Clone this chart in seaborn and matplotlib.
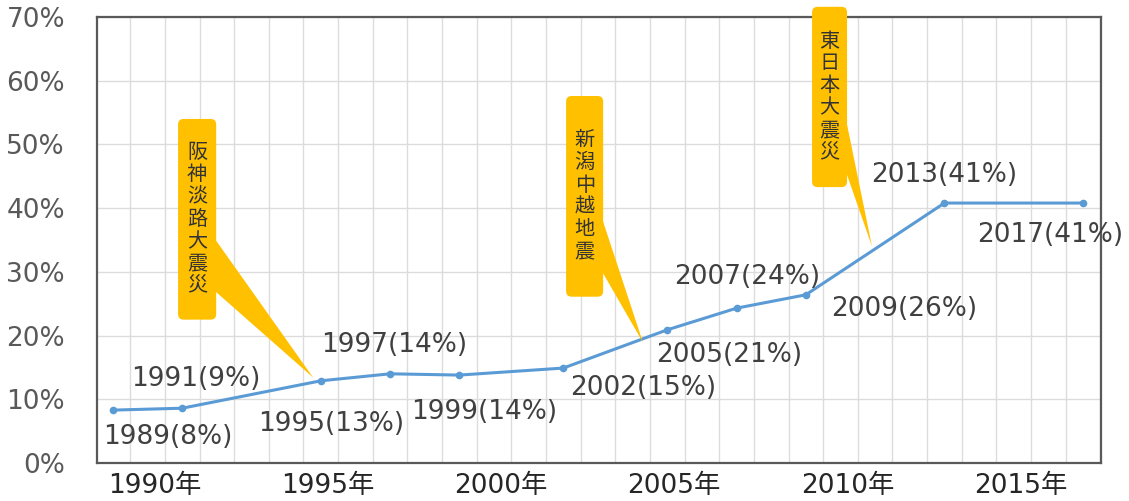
import matplotlib
matplotlib.use("Agg")
import matplotlib.pyplot as plt
import matplotlib.transforms as mtransforms
import seaborn as sns
from matplotlib.patches import FancyBboxPatch, Polygon
from matplotlib.ticker import FixedLocator, MultipleLocator

# =========================
# DATA
# =========================

years = [1989, 1991, 1995, 1997, 1999, 2002, 2005, 2007, 2009, 2013, 2017]
share = [8.3, 8.6, 12.9, 14.0, 13.8, 14.9, 20.9, 24.3, 26.4, 40.8, 40.8]

x_ticks = [1990, 1995, 2000, 2005, 2010, 2015]
x_tick_labels = [f"{y}年" for y in x_ticks]
y_ticks = [0, 10, 20, 30, 40, 50, 60, 70]
y_tick_labels = [f"{v}%" for v in y_ticks]

events = ["阪神淡路大震災", "新潟中越地震", "東日本大震災"]

# label offsets (pixels) from each point, dy positive = up
label_offsets = [(55, -27), (14, 29), (10, -43), (4, 29), (25, -37), (80, -20),
                 (62, -25), (11, 31), (98, -14), (0, 28), (-33, -32)]

# callout layout: box (x0, y0, x1, y1), wedge (base top, base bottom, tip)
callouts = [
    dict(box=(1990.88, 22.5, 1991.98, 54.0),
         wedge=[(1991.9, 35.5), (1991.9, 27.2), (1994.78, 13.4)]),
    dict(box=(2002.08, 26.1, 2003.15, 57.6),
         wedge=[(2003.05, 39.5), (2003.05, 30.7), (2004.30, 18.9)]),
    dict(box=(2009.18, 43.3, 2010.19, 71.6),
         wedge=[(2010.1, 55.5), (2010.1, 46.6), (2010.91, 34.0)]),
]

# =========================
# PLOT
# =========================

sns.set_theme(style="white")
plt.rcParams['font.family'] = ['DejaVu Sans', 'Noto Sans CJK JP']

fig = plt.figure(figsize=(11.29, 5.01), dpi=100)
ax = fig.add_axes([97 / 1129, 1 - 463 / 501, (1101 - 97) / 1129, (463 - 17) / 501])

ax.set_xlim(1988.54, 2017.52)
ax.set_ylim(0, 70)

# grid
ax.xaxis.set_minor_locator(MultipleLocator(1, offset=0.5))
ax.grid(True, which="minor", axis="x", color="#DCDCDC", lw=1)
ax.grid(True, which="major", axis="y", color="#DCDCDC", lw=1)
ax.set_axisbelow(True)

sns.lineplot(x=years, y=share, ax=ax, color="#5B9BD5", lw=2.2,
             marker="o", markersize=5.5, markeredgewidth=0)

ax.xaxis.set_major_locator(FixedLocator(x_ticks))
ax.set_xticklabels(x_tick_labels, fontsize=19, color="#262626")
ax.yaxis.set_major_locator(FixedLocator(y_ticks))
ax.set_yticklabels(y_tick_labels, fontsize=19, color="#595959")
ax.tick_params(axis="x", which="both", length=0, pad=7)
ax.tick_params(axis="y", which="both", length=0, pad=23)
ax.set_xlabel("")
ax.set_ylabel("")

shift = mtransforms.ScaledTranslation(7 / 100, 0, fig.dpi_scale_trans)
for lbl in ax.get_xticklabels():
    lbl.set_transform(lbl.get_transform() + shift)

for s in ax.spines.values():
    s.set_color("#595959")
    s.set_linewidth(1.6)

# data labels
for y, v, (dx, dy) in zip(years, share, label_offsets):
    ax.annotate(f"{y}({round(v)}%)", xy=(y, v), xytext=(dx, dy),
                textcoords="offset pixels", ha="center", va="center",
                fontsize=19, color="#404040")

# callouts
aspect = 34.64 / 6.357
for txt, c in zip(events, callouts):
    x0, y0, x1, y1 = c["box"]
    ax.add_patch(Polygon(c["wedge"], closed=True, fc="#FFC000", ec="none",
                         zorder=4, clip_on=False))
    ax.add_patch(FancyBboxPatch((x0, y0), x1 - x0, y1 - y0,
                                boxstyle="round,pad=0,rounding_size=0.16",
                                mutation_aspect=aspect, fc="#FFC000", ec="none",
                                zorder=5, clip_on=False))
    ax.text((x0 + x1) / 2, (y0 + y1) / 2, "\n".join(txt), ha="center", va="center",
            fontsize=14.5, color="#333333", linespacing=1.08, zorder=6,
            family=["Noto Sans CJK JP", "DejaVu Sans"])

fig.savefig("out.png", dpi=100)
